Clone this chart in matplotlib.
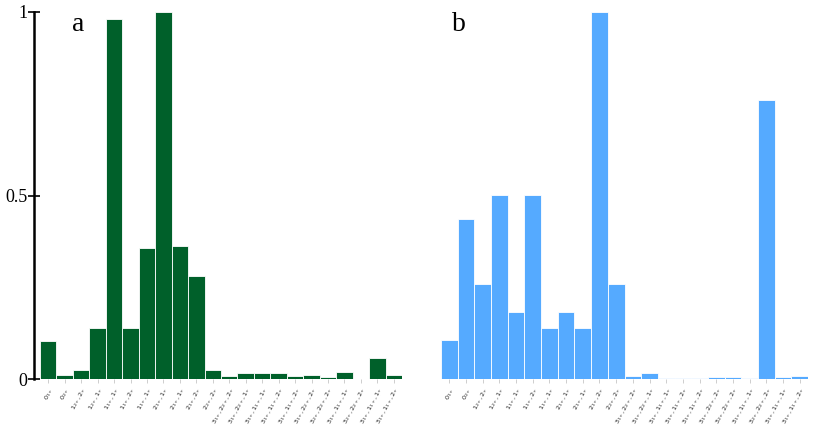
import matplotlib
matplotlib.use("Agg")
import matplotlib.pyplot as plt

# state labels (same order in both panels)
labels = [
    r"$0_{1+}$", r"$0_{2+}$",
    r"$1_{2+},2_{+}$", r"$1_{2+},1_{+}$", r"$1_{1+},1_{+}$", r"$1_{1+},2_{+}$", r"$1_{1+},1_{+}$",
    r"$2_{1+},1_{+}$", r"$2_{1+},1_{+}$", r"$2_{1+},2_{+}$", r"$2_{2+},2_{+}$",
    r"$3_{1+},2_{2+},2_{+}$", r"$3_{1+},2_{2+},1_{+}$", r"$3_{1+},1_{1+},1_{+}$",
    r"$3_{1+},1_{1+},2_{+}$", r"$3_{1+},1_{1+},2_{+}$", r"$3_{1+},2_{2+},2_{+}$",
    r"$3_{2+},2_{2+},2_{+}$", r"$3_{1+},1_{1+},1_{+}$", r"$3_{2+},2_{2+},2_{+}$",
    r"$3_{1+},1_{1+},1_{+}$", r"$3_{1+},1_{1+},2_{+}$",
]

values_a = [0.104, 0.011, 0.025, 0.14, 0.98, 0.14, 0.357, 1.0, 0.362, 0.28, 0.025,
            0.008, 0.017, 0.017, 0.015, 0.008, 0.012, 0.005, 0.02, 0.0, 0.057, 0.01]
values_b = [0.105, 0.436, 0.259, 0.502, 0.183, 0.502, 0.14, 0.183, 0.14, 1.0, 0.259,
            0.008, 0.016, 0.002, 0.002, 0.004, 0.006, 0.005, 0.003, 0.76, 0.006, 0.009]

yticks = [0, 0.5, 1]
ytick_labels = ["0", "0.5", "1"]

plt.rcParams["mathtext.fontset"] = "dejavusans"

fig = plt.figure(figsize=(8.3, 4.33), dpi=100)
ax_a = fig.add_axes([40 / 830, 54 / 433, 362 / 830, 367 / 433])
ax_b = fig.add_axes([441 / 830, 54 / 433, 367 / 830, 367 / 433])

x = list(range(len(labels)))

for ax, vals, color, letter, lx in [(ax_a, values_a, "#00602a", "a", 0.088),
                                     (ax_b, values_b, "#55aaff", "b", 0.03)]:
    ax.bar(x, vals, width=1.0, color=color, edgecolor="white", linewidth=0.6)
    ax.set_xlim(-0.5, len(labels) - 0.5)
    ax.set_ylim(0, 1)
    for s in ["top", "right", "bottom"]:
        ax.spines[s].set_visible(False)
    ax.set_xticks(x)
    ax.set_xticklabels(labels, rotation=62, ha="right", rotation_mode="anchor",
                       fontsize=4.6, color="#222222")
    ax.tick_params(axis="x", length=3, width=0.5, color="#bbbbbb", pad=2)
    ax.text(lx, 1.0, letter, transform=ax.transAxes, fontsize=20,
            family="Liberation Serif", va="top", ha="left")

ax_a.spines["left"].set_position(("outward", 4))
ax_a.spines["left"].set_linewidth(1.8)
ax_a.set_yticks(yticks)
ax_a.set_yticklabels(ytick_labels, family="Liberation Serif", fontsize=13)
ax_a.tick_params(axis="y", direction="inout", length=8, width=1.2, pad=1)

ax_b.spines["left"].set_visible(False)
ax_b.set_yticks([])

fig.savefig("out.png", dpi=100)
